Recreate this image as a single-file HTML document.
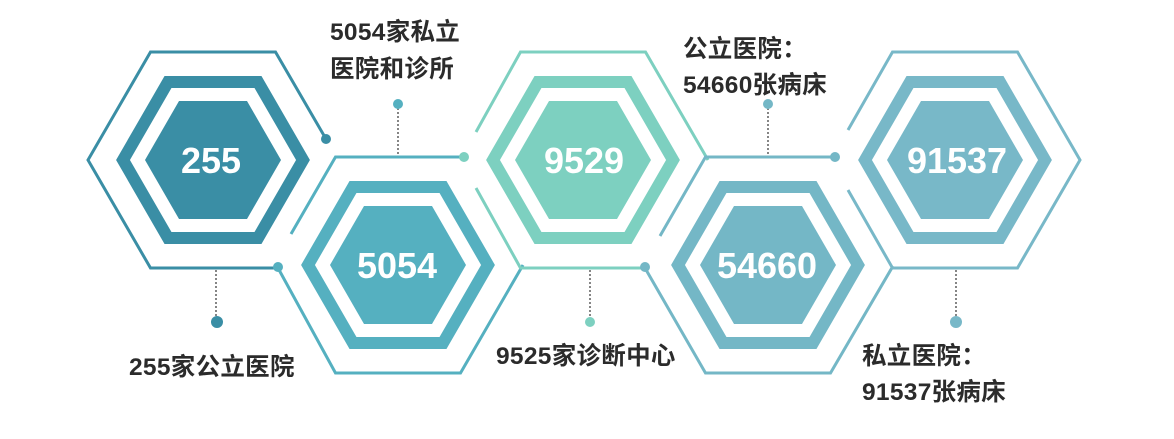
<!DOCTYPE html>
<html><head><meta charset="utf-8"><style>
html,body{margin:0;padding:0;background:#fff;width:1174px;height:439px;overflow:hidden}
svg{display:block}
.lb{font-family:"Liberation Sans","Noto Sans CJK SC",sans-serif;font-weight:bold;font-size:24.5px;fill:#2b2b2b;letter-spacing:0.3px}
.nm{font-family:"Liberation Sans","Noto Sans CJK SC",sans-serif;font-weight:bold;font-size:36px;fill:#fff}
</style></head><body>
<svg width="1174" height="439" viewBox="0 0 1174 439" xmlns="http://www.w3.org/2000/svg">
<g fill="none" stroke-width="3" stroke-linejoin="miter">
<path d="M326,139 L275.5,52 L150.5,52 L88,160 L150.5,268 L278,268" stroke="#3a8ea5"/>
<path d="M291,234 L335.5,157 L464,157" stroke="#55b0c0"/>
<path d="M278,268 L335.5,373 L460.5,373 L523,265" stroke="#55b0c0"/>
<path d="M476,132 L520.5,52 L645.5,52 L708,160" stroke="#7dd0c0"/>
<path d="M476,188 L520.5,268 L645,268" stroke="#7dd0c0"/>
<path d="M660,236 L705.5,157 L835,157" stroke="#74b7c6"/>
<path d="M645,268 L705.5,373 L830.5,373 L893,266" stroke="#74b7c6"/>
<path d="M848,130 L892.5,52 L1017.5,52 L1080,160 L1017.5,268 L892.5,268 L848,190" stroke="#78b8c8"/>
</g>
<g stroke-width="12" fill="none">
<polygon points="303,160 258,238 168,238 123,160 168,82 258,82" stroke="#3a8ea5"/>
<polygon points="488,265 443,343 353,343 308,265 353,187 443,187" stroke="#55b0c0"/>
<polygon points="673,160 628,238 538,238 493,160 538,82 628,82" stroke="#7dd0c0"/>
<polygon points="858,265 813,343 723,343 678,265 723,187 813,187" stroke="#74b7c6"/>
<polygon points="1045,160 1000,238 910,238 865,160 910,82 1000,82" stroke="#78b8c8"/>
</g>
<polygon points="281,160 247,219 179,219 145,160 179,101 247,101" fill="#3a8ea5"/>
<polygon points="466,265 432,324 364,324 330,265 364,206 432,206" fill="#55b0c0"/>
<polygon points="651,160 617,219 549,219 515,160 549,101 617,101" fill="#7dd0c0"/>
<polygon points="836,265 802,324 734,324 700,265 734,206 802,206" fill="#74b7c6"/>
<polygon points="1023,160 989,219 921,219 887,160 921,101 989,101" fill="#78b8c8"/>
<text class="nm" x="211" y="173" text-anchor="middle">255</text>
<text class="nm" x="397" y="278" text-anchor="middle">5054</text>
<text class="nm" x="584" y="173" text-anchor="middle">9529</text>
<text class="nm" x="767" y="278" text-anchor="middle">54660</text>
<text class="nm" x="957" y="173" text-anchor="middle">91537</text>
<g stroke="#444" stroke-width="1.3" stroke-dasharray="2,2">
<line x1="216" y1="270" x2="216" y2="318"/>
<line x1="398" y1="108" x2="398" y2="156"/>
<line x1="590" y1="270" x2="590" y2="318"/>
<line x1="768" y1="108" x2="768" y2="156"/>
<line x1="956" y1="270" x2="956" y2="318"/>
</g>
<circle cx="326" cy="139" r="5" fill="#3a8ea5"/>
<circle cx="278" cy="267" r="5" fill="#55b0c0"/>
<circle cx="464" cy="157" r="5" fill="#7dd0c0"/>
<circle cx="645" cy="267" r="5" fill="#74b7c6"/>
<circle cx="835" cy="157" r="5" fill="#74b7c6"/>
<circle cx="217" cy="322" r="6" fill="#3a8ea5"/>
<circle cx="398" cy="104" r="5" fill="#55b0c0"/>
<circle cx="590" cy="322" r="5" fill="#7dd0c0"/>
<circle cx="768" cy="104" r="5" fill="#74b7c6"/>
<circle cx="956" cy="322" r="6" fill="#78b8c8"/>
<text class="lb" x="129" y="375">255家公立医院</text>
<text class="lb" x="330" y="40">5054家私立</text>
<text class="lb" x="330" y="77">医院和诊所</text>
<text class="lb" x="496" y="364">9525家诊断中心</text>
<text class="lb" x="683" y="57">公立医院：</text>
<text class="lb" x="683" y="93">54660张病床</text>
<text class="lb" x="862" y="364">私立医院：</text>
<text class="lb" x="862" y="400">91537张病床</text>
</svg>
</body></html>
